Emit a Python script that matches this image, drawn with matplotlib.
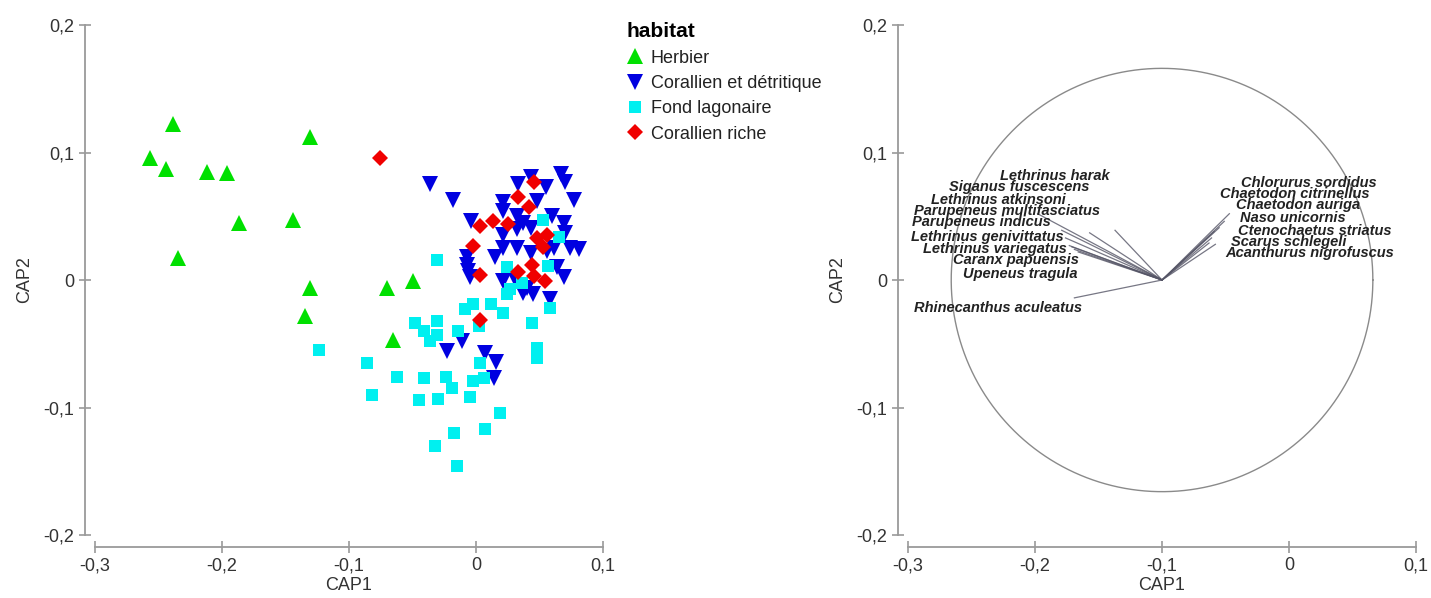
import matplotlib
matplotlib.use("Agg")
import matplotlib.pyplot as plt
from matplotlib.ticker import FuncFormatter
from matplotlib.lines import Line2D
import numpy as np

plt.rcParams['font.family'] = ['Liberation Sans', 'DejaVu Sans']

# ---------------- data ----------------
habitats = ["Herbier", "Corallien et détritique", "Fond lagonaire", "Corallien riche"]

herbier_x = [-0.257, -0.239, -0.244, -0.212, -0.196, -0.187, -0.235, -0.131, -0.144,
             -0.131, -0.135, -0.070, -0.050, -0.065]
herbier_y = [0.096, 0.122, 0.087, 0.085, 0.084, 0.045, 0.017, 0.112, 0.047,
             -0.006, -0.028, -0.006, -0.001, -0.047]

detrit_x = [-0.036, -0.018, -0.004, 0.021, 0.021, 0.033, 0.043, 0.055, 0.067, 0.070,
            0.077, 0.032, 0.037, 0.043, 0.021, 0.032, 0.060, 0.069, 0.070, 0.074,
            0.081, 0.021, 0.032, 0.043, 0.056, 0.015, -0.007, -0.007, -0.006, -0.005,
            0.021, 0.031, 0.040, 0.045, 0.037, 0.069, 0.058, 0.061, -0.011, -0.023,
            0.007, 0.016, 0.014, 0.064, 0.048]
detrit_y = [0.075, 0.063, 0.046, 0.061, 0.054, 0.075, 0.081, 0.073, 0.083, 0.077,
            0.063, 0.050, 0.045, 0.041, 0.035, 0.040, 0.050, 0.045, 0.037, 0.025,
            0.024, 0.025, 0.025, 0.021, 0.023, 0.018, 0.018, 0.012, 0.007, 0.002,
            -0.001, 0.001, -0.006, -0.011, -0.010, 0.002, -0.015, 0.025, -0.048, -0.056,
            -0.057, -0.064, -0.077, 0.010, 0.062]

lagon_x = [-0.031, 0.053, 0.065, 0.057, 0.024, 0.036, 0.027, 0.024, 0.012, 0.021,
           -0.002, -0.009, 0.002, 0.058, 0.044, 0.048, 0.048, -0.048, -0.031, -0.041,
           -0.036, -0.031, -0.014, -0.086, -0.062, -0.041, -0.024, -0.019, -0.002, 0.006,
           0.003, -0.082, -0.045, -0.030, -0.005, 0.019, 0.007, -0.017, -0.032, -0.015,
           -0.124]
lagon_y = [0.016, 0.047, 0.034, 0.011, 0.010, -0.002, -0.007, -0.011, -0.019, -0.026,
           -0.019, -0.023, -0.036, -0.022, -0.034, -0.053, -0.061, -0.034, -0.032, -0.040,
           -0.048, -0.043, -0.040, -0.065, -0.076, -0.077, -0.076, -0.085, -0.079, -0.077,
           -0.065, -0.090, -0.094, -0.093, -0.092, -0.104, -0.117, -0.120, -0.130, -0.146,
           -0.055]

riche_x = [-0.076, 0.046, 0.033, 0.042, 0.003, 0.013, 0.025, -0.002, 0.048, 0.056,
           0.053, 0.044, 0.033, 0.046, 0.054, 0.003, 0.003]
riche_y = [0.096, 0.077, 0.065, 0.057, 0.042, 0.046, 0.044, 0.027, 0.033, 0.035,
           0.026, 0.012, 0.006, 0.003, -0.001, 0.004, -0.031]

# species correlation vectors (CAP1, CAP2), drawn from the circle centre
species = ["Lethrinus harak", "Siganus fuscescens", "Lethrinus atkinsoni",
           "Parupeneus multifasciatus", "Parupeneus indicus", "Lethrinus genivittatus",
           "Lethrinus variegatus", "Caranx papuensis", "Upeneus tragula",
           "Rhinecanthus aculeatus",
           "Chlorurus sordidus", "Chaetodon citrinellus", "Chaetodon auriga",
           "Naso unicornis", "Ctenochaetus striatus", "Scarus schlegeli",
           "Acanthurus nigrofuscus"]
vec_x = [-0.037, -0.057, -0.079, -0.098, -0.076, -0.073, -0.069, -0.071, -0.066,
         -0.069,
         0.053, 0.049, 0.045, 0.041, 0.039, 0.042, 0.037]
vec_y = [0.039, 0.037, 0.039, 0.052, 0.033, 0.027, 0.024, 0.026, 0.022,
         -0.014,
         0.052, 0.046, 0.041, 0.038, 0.033, 0.028, 0.029]

circle_center = (-0.1, 0.0)
circle_radius = 0.166

# label placement (text centres)
label_x = [-0.1847, -0.2126, -0.2287, -0.2222, -0.2425, -0.2374, -0.2320, -0.2151, -0.2114,
           -0.2294,
           0.0157, 0.0042, 0.0075, 0.0031, 0.0199, 0.0000, 0.0160]
label_y = [0.0819, 0.0727, 0.0630, 0.0543, 0.0457, 0.0339, 0.0244, 0.0157, 0.0050,
           -0.0220,
           0.0758, 0.0675, 0.0588, 0.0490, 0.0386, 0.0299, 0.0215]

xticks = [-0.3, -0.2, -0.1, 0, 0.1]
yticks = [-0.2, -0.1, 0, 0.1, 0.2]

# ---------------- figure ----------------
W, H = 1431, 598
fig = plt.figure(figsize=(W / 100, H / 100), dpi=100)

AXCOL = '#9a9a9a'
FS = 13


def fmt(v, pos):
    if abs(v) < 1e-9:
        return "0"
    return ("%.1f" % v).replace(".", ",")


def style_axes(ax):
    ax.set_xlim(-0.3079, 0.105)
    ax.set_ylim(-0.2094, 0.2102)
    for s in ['top', 'right']:
        ax.spines[s].set_visible(False)
    ax.spines['left'].set_bounds(-0.2, 0.2)
    ax.spines['bottom'].set_bounds(-0.3, 0.1)
    for s in ['left', 'bottom']:
        ax.spines[s].set_color(AXCOL)
        ax.spines[s].set_linewidth(1.3)
    ax.set_xticks(xticks)
    ax.set_yticks(yticks)
    ax.xaxis.set_major_formatter(FuncFormatter(fmt))
    ax.yaxis.set_major_formatter(FuncFormatter(fmt))
    ax.tick_params(direction='inout', length=9, width=1.2, color=AXCOL,
                   labelsize=FS, labelcolor='#333333', pad=3)
    ax.set_xlabel("CAP1", fontsize=FS, color='#333333')
    ax.set_ylabel("CAP2", fontsize=FS, color='#333333')
    ax.xaxis.set_label_coords(0.5035, -0.056)
    ax.yaxis.set_label_coords(-0.098, 0.5)
    ax.patch.set_alpha(0)


def axes_rect(left_px):
    bottom_px = 547
    top_px = 12
    width_px = (0.105 + 0.3079) * 1270
    return [left_px / W, (H - bottom_px) / H, width_px / W, (bottom_px - top_px) / H]


ax1 = fig.add_axes(axes_rect(85))
ax2 = fig.add_axes(axes_rect(898))
style_axes(ax1)
style_axes(ax2)

# ---- left scatter ----
cols = ['#00e000', '#0000e0', '#00f0f0', '#f00000']
mk = ['^', 'v', 's', 'D']
ms = [11, 11, 9, 7.8]
series = [(herbier_x, herbier_y), (detrit_x, detrit_y), (lagon_x, lagon_y), (riche_x, riche_y)]
for (sx, sy), c, m, s in zip(series, cols, mk, ms):
    ax1.plot(sx, sy, linestyle='none', marker=m, ms=s, color=c, mec=c, mew=0)

handles = [Line2D([], [], linestyle='none', marker=m, ms=s, color=c, mew=0)
           for c, m, s in zip(cols, mk, ms)]
leg = fig.legend(handles, habitats, loc='upper left', bbox_to_anchor=(612 / W, 1 - 8 / H),
                 frameon=False, fontsize=FS, title="habitat",
                 title_fontproperties={'weight': 'bold', 'size': 15},
                 handlelength=1.0, handletextpad=0.35, labelspacing=0.46, borderpad=0.3)
leg._legend_box.align = "left"
for t in leg.get_texts():
    t.set_color('#222222')

# ---- right: correlation circle ----
th = np.linspace(0, 2 * np.pi, 400)
ax2.plot(circle_center[0] + circle_radius * np.cos(th),
         circle_center[1] + circle_radius * np.sin(th),
         color='#8a8a8a', lw=1.0)
for vx, vy in zip(vec_x, vec_y):
    ax2.plot([circle_center[0], circle_center[0] + vx],
             [circle_center[1], circle_center[1] + vy],
             color='#555566', lw=0.9, alpha=0.8)
for name, lx, ly in zip(species, label_x, label_y):
    ax2.text(lx, ly, name, ha='center', va='center', fontsize=10.5,
             fontweight='bold', fontstyle='italic', color='#222222')

fig.savefig("out.png", dpi=100)
